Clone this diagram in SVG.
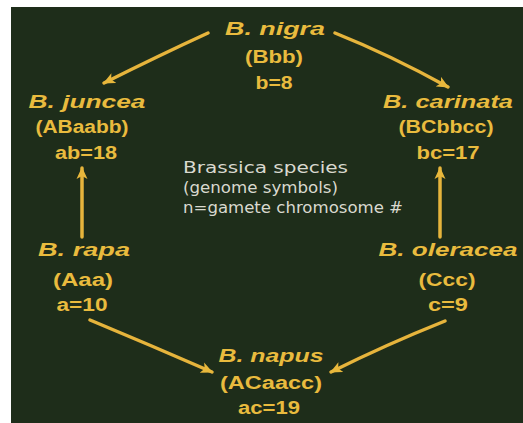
<svg xmlns="http://www.w3.org/2000/svg" width="523" height="423" viewBox="0 0 523 423">
  <defs>
    <marker id="ah" markerUnits="userSpaceOnUse" markerWidth="14" markerHeight="12" refX="11" refY="6" orient="auto">
      <path d="M0,0.5 L12,6 L0,11.5 L3,6 Z" fill="#e8b83c"/>
    </marker>
    <style>
      .sp { font-family: "Liberation Sans", Arial, sans-serif; font-weight: bold; font-style: italic; font-size: 18px; fill: #e9bb3e; text-anchor: middle; }
      .gn { font-family: "Liberation Sans", Arial, sans-serif; font-weight: bold; font-size: 18px; fill: #e9bb3e; text-anchor: middle; }
      .note { font-family: "DejaVu Sans", sans-serif; font-size: 16px; fill: #d9d9cf; }
      .arr { fill: none; stroke: #e6b43c; stroke-width: 3.5; stroke-linecap: round; marker-end: url(#ah); }
    </style>
  </defs>
  <rect x="0" y="0" width="523" height="423" fill="#ffffff"/>
  <rect x="11" y="7" width="512" height="416" fill="#1e2d1a"/>

  <g id="connectors">
    <path class="arr" d="M208,33 Q160,55 104,83"/>
    <path class="arr" d="M335,33 Q390,55 448,87"/>
    <path class="arr" d="M82,237 L82,168"/>
    <path class="arr" d="M440,237 L440,168"/>
    <path class="arr" d="M90,320 Q150,345 212,372"/>
    <path class="arr" d="M445,321 Q385,345 331,372"/>
  </g>

  <g id="nigra">
    <text class="sp" x="275" y="35" textLength="100" lengthAdjust="spacingAndGlyphs">B. nigra</text>
    <text class="gn" x="274" y="63" textLength="58" lengthAdjust="spacingAndGlyphs">(Bbb)</text>
    <text class="gn" x="274" y="89" textLength="37" lengthAdjust="spacingAndGlyphs">b=8</text>
  </g>

  <g id="juncea">
    <text class="sp" x="87" y="108" textLength="117" lengthAdjust="spacingAndGlyphs">B. juncea</text>
    <text class="gn" x="82" y="133" textLength="93" lengthAdjust="spacingAndGlyphs">(ABaabb)</text>
    <text class="gn" x="86" y="159" textLength="62" lengthAdjust="spacingAndGlyphs">ab=18</text>
  </g>

  <g id="carinata">
    <text class="sp" x="448" y="108" textLength="130" lengthAdjust="spacingAndGlyphs">B. carinata</text>
    <text class="gn" x="446" y="133" textLength="95" lengthAdjust="spacingAndGlyphs">(BCbbcc)</text>
    <text class="gn" x="448" y="159" textLength="63" lengthAdjust="spacingAndGlyphs">bc=17</text>
  </g>

  <g id="legend">
    <text class="note" x="183" y="173" textLength="165" lengthAdjust="spacingAndGlyphs">Brassica species</text>
    <text class="note" x="183" y="193" textLength="155" lengthAdjust="spacingAndGlyphs">(genome symbols)</text>
    <text class="note" x="183" y="213" textLength="220" lengthAdjust="spacingAndGlyphs">n=gamete chromosome #</text>
  </g>

  <g id="rapa">
    <text class="sp" x="84" y="256" textLength="92" lengthAdjust="spacingAndGlyphs">B. rapa</text>
    <text class="gn" x="83" y="286" textLength="60" lengthAdjust="spacingAndGlyphs">(Aaa)</text>
    <text class="gn" x="82" y="311" textLength="51" lengthAdjust="spacingAndGlyphs">a=10</text>
  </g>

  <g id="oleracea">
    <text class="sp" x="448" y="256" textLength="139" lengthAdjust="spacingAndGlyphs">B. oleracea</text>
    <text class="gn" x="447" y="286" textLength="57" lengthAdjust="spacingAndGlyphs">(Ccc)</text>
    <text class="gn" x="448" y="311" textLength="40" lengthAdjust="spacingAndGlyphs">c=9</text>
  </g>

  <g id="napus">
    <text class="sp" x="271" y="362" textLength="105" lengthAdjust="spacingAndGlyphs">B. napus</text>
    <text class="gn" x="271" y="389" textLength="102" lengthAdjust="spacingAndGlyphs">(ACaacc)</text>
    <text class="gn" x="269" y="414" textLength="62" lengthAdjust="spacingAndGlyphs">ac=19</text>
  </g>
</svg>
